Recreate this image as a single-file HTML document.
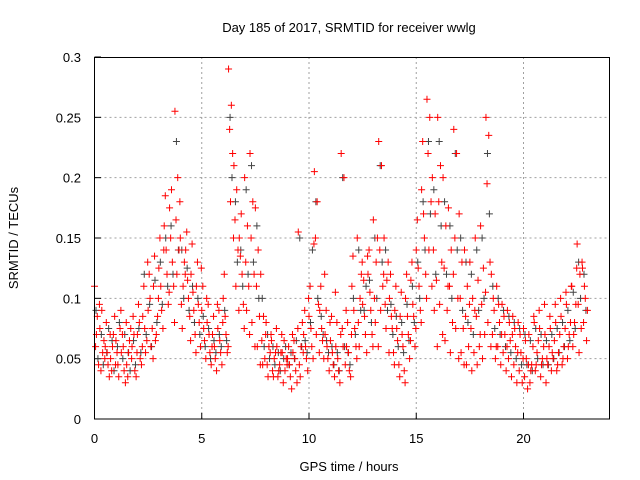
<!DOCTYPE html>
<html><head><meta charset="utf-8"><style>
html,body{margin:0;padding:0;background:#fff;}
svg{display:block;font-family:"Liberation Sans",sans-serif;}
</style></head><body>
<svg id="chart" width="640" height="480">
<text x="349" y="32" font-size="13" text-anchor="middle">Day 185 of 2017, SRMTID for receiver wwlg</text>
<text x="349" y="471" font-size="13" text-anchor="middle">GPS time / hours</text>
<text transform="translate(18,238) rotate(-90)" font-size="13" text-anchor="middle">SRMTID / TECUs</text>
<g id="grid"></g>
<g id="ticks"></g>
<g id="grey"></g>
<g id="red"></g>
<rect x="94.5" y="57.5" width="515" height="361.5" fill="none" stroke="#000" stroke-width="1"/>
</svg>
<script>
const xTicks=[0,5,10,15,20];
const yTicks=[0,0.05,0.1,0.15,0.2,0.25,0.3];
const yTickLabels=["0","0.05","0.1","0.15","0.2","0.25","0.3"];
const slotStart=0, slotStep=0.25;
const redVals=[
[110,85,60,45,70,95],[75,55,40,65,90,50],[60,45,80,35,55,70],[50,70,40,85,60,45],
[65,35,55,75,45,90],[55,40,70,30,60,80],[45,65,35,75,55,50],[60,40,85,35,70,55],
[70,50,95,45,80,60],[85,55,110,65,75,130],[90,60,120,75,100,50],[110,70,135,85,65,100],
[125,90,150,75,110,140],[160,120,185,95,140,105],[175,130,150,110,190,80],[255,200,165,140,120,180],
[150,110,95,130,75,120],[140,100,155,85,115,65],[120,90,145,70,105,55],[110,80,130,60,95,125],
[90,65,110,50,75,100],[80,55,95,45,70,60],[70,50,85,40,60,95],[75,55,90,45,65,80],
[100,70,120,55,85,60],[290,260,240,220,180,150],[210,190,165,140,110,90],[150,120,135,95,170,75],
[200,160,130,110,90,70],[220,180,150,120,80,60],[175,140,110,85,60,45],[120,85,65,50,45,70],
[80,60,45,55,35,70],[65,50,40,55,35,75],[60,45,35,55,40,70],[55,40,30,50,65,45],
[50,35,60,25,45,70],[55,40,65,30,50,75],[155,60,45,80,35,55],[70,50,90,40,60,100],
[85,60,110,50,75,145],[205,180,150,95,70,55],[90,65,110,50,75,120],[70,50,90,40,60,80],
[65,45,85,35,55,105],[60,40,80,30,50,70],[220,200,75,45,60,90],[60,40,80,35,55,70],
[110,75,135,60,90,50],[150,100,80,120,60,130],[95,70,115,55,85,135],[120,90,140,70,105,60],
[165,130,100,150,80,60],[230,210,140,110,90,120],[150,115,95,130,75,55],[100,75,120,55,85,45],
[90,65,110,45,75,35],[85,60,105,40,70,30],[100,70,120,50,85,65],[115,85,130,60,95,75],
[140,110,165,90,125,80],[190,150,230,120,170,100],[265,250,220,180,140,110],[200,170,140,115,90,60],
[250,210,180,130,95,70],[200,160,125,90,65,110],[175,140,110,80,55,120],[240,220,150,100,75,50],
[170,130,100,75,55,45],[140,110,85,60,45,95],[130,100,75,55,40,90],[150,115,85,60,45,70],
[160,125,95,70,50,105],[250,235,195,130,80,60],[120,90,70,50,100,60],[110,80,60,45,95,70],
[95,70,55,40,85,60],[90,65,50,35,80,70],[85,60,45,30,75,55],[80,55,40,30,70,50],
[75,50,35,25,65,45],[70,45,30,60,40,85],[80,55,40,65,45,90],[75,50,35,60,45,95],
[70,45,30,60,50,85],[75,50,40,65,55,95],[80,55,40,70,45,100],[85,60,45,75,50,105],
[95,70,50,80,60,110],[110,80,60,95,70,125],[145,120,95,75,55,130],[125,100,80,65,110,90]];
const greyVals=[
[90,50],[70,45],[55,75],[65,40],[60,80],[50,70],[55,40],[65,45],
[75,55],[120,70],[95,60],[115,80],[130,95],[150,110],[160,120],[230,140],
[140,100],[125,90],[110,80],[100,70],[85,60],[75,50],[65,55],[70,60],
[90,65],[250,200],[180,130],[140,110],[190,120],[210,130],[160,100],[100,60],
[70,50],[60,45],[55,40],[50,60],[45,55],[50,65],[150,60],[65,55],
[80,140],[180,100],[85,70],[65,55],[60,45],[55,40],[200,60],[55,45],
[100,70],[140,90],[90,110],[115,80],[150,100],[210,130],[140,90],[95,70],
[85,60],[80,55],[95,65],[110,80],[130,100],[180,140],[230,170],[190,120],
[230,160],[180,120],[160,100],[220,140],[150,90],[130,80],[120,70],[140,90],
[150,100],[220,170],[110,75],[100,70],[90,60],[85,55],[80,50],[75,45],
[70,45],[65,40],[75,50],[70,45],[65,45],[70,50],[75,55],[80,60],
[90,65],[105,75],[130,100],[120,90]];
const redOff=[0.0,0.13,0.05,0.19,0.09,0.23];
const greyOff=[0.07,0.16];
const X=h=>94.5+h*21.45, Y=v=>419-v*1206.7;
const NS="http://www.w3.org/2000/svg";
const grid=document.getElementById('grid'), ticks=document.getElementById('ticks');
function mk(tag,attrs,parent){const e=document.createElementNS(NS,tag);for(const k in attrs)e.setAttribute(k,attrs[k]);parent.appendChild(e);return e;}
xTicks.forEach((t,i)=>{const x=X(t);
 if(t>0){const g=mk('line',{x1:x,x2:x,y1:57,y2:419,stroke:'#a0a0a0','stroke-dasharray':'2,3'},grid);
 
 }
 const tk=mk('line',{x1:x,x2:x,y1:419,y2:413,stroke:'#000'},ticks);
 
 
 const tl=mk('text',{x:x,y:443,'font-size':13,'text-anchor':'middle'},ticks);tl.textContent=String(t);
 
 
});
yTicks.forEach((t,i)=>{const y=Y(t);
 if(t>0&&t<0.3){const g=mk('line',{x1:94.5,x2:609,y1:y,y2:y,stroke:'#a0a0a0','stroke-dasharray':'2,3'},grid);
 
 }
 const tk=mk('line',{x1:94.5,x2:101,y1:y,y2:y,stroke:'#000'},ticks);
 
 
 const tl=mk('text',{x:81,y:y+5,'font-size':13,'text-anchor':'end'},ticks);tl.textContent=yTickLabels[i];
 
 
});
function plus(parent,h,v,col){const x=X(h),y=Y(v);
 const p=mk('path',{d:`M${x-3.5},${y}H${x+3.5}M${x},${y-3.5}V${y+3.5}`,stroke:col,'stroke-width':1,fill:'none'},parent);
 
 }
const gg=document.getElementById('grey'), rg=document.getElementById('red');
greyVals.forEach((arr,s)=>arr.forEach((v,k)=>plus(gg,slotStart+s*slotStep+greyOff[k],v/1000,'#444')));
redVals.forEach((arr,s)=>arr.forEach((v,k)=>plus(rg,slotStart+s*slotStep+redOff[k],v/1000,'#ff0000')));
</script>
</body></html>
